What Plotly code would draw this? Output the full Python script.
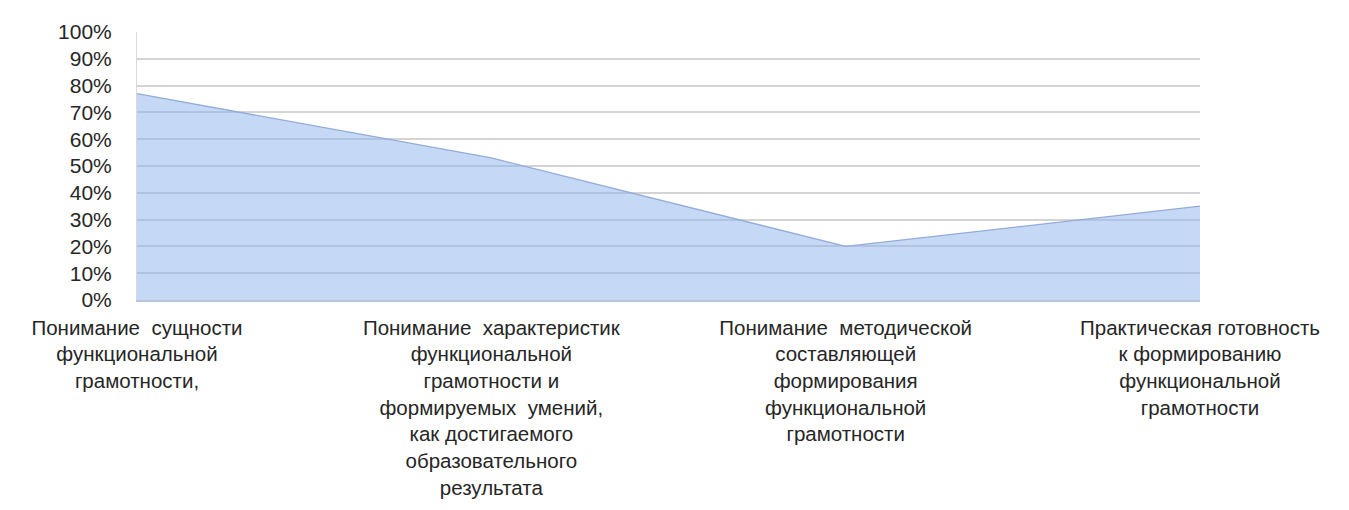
import plotly.graph_objects as go

categories = [
    "Понимание  сущности<br>функциональной<br>грамотности,",
    "Понимание  характеристик<br>функциональной<br>грамотности и<br>формируемых  умений,<br>как достигаемого<br>образовательного<br>результата",
    "Понимание  методической<br>составляющей<br>формирования<br>функциональной<br>грамотности",
    "Практическая готовность<br>к формированию<br>функциональной<br>грамотности",
]
values = [77, 53, 20, 35]
y_ticks = [0, 10, 20, 30, 40, 50, 60, 70, 80, 90, 100]
y_labels = [f"{v}%" for v in y_ticks]

fig = go.Figure()
fig.add_trace(go.Scatter(
    x=list(range(len(categories))),
    y=values,
    mode="lines",
    fill="tozeroy",
    fillcolor="rgba(140,180,240,0.5)",
    line=dict(color="#93abd8", width=1.3),
    hoverinfo="skip",
))

xfont = dict(family="Liberation Sans, Arial, sans-serif", size=20.5, color="#262626")
yfont = dict(family="Liberation Sans, Arial, sans-serif", size=21, color="#262626")

fig.update_layout(
    width=1349, height=510,
    margin=dict(l=129, r=157, t=16, b=218),
    paper_bgcolor="white", plot_bgcolor="white",
    showlegend=False,
    font=xfont,
    xaxis=dict(
        range=[0, len(categories) - 1],
        tickmode="array",
        tickvals=list(range(len(categories))),
        ticktext=categories,
        showgrid=False, zeroline=False,
        showline=True, linecolor="#b8c4dc", linewidth=2,
        ticks="outside", ticklen=8, tickcolor="rgba(0,0,0,0)",
        tickangle=0,
        tickfont=xfont,
    ),
    yaxis=dict(
        range=[0, 100],
        tickmode="array",
        tickvals=y_ticks,
        ticktext=y_labels,
        showgrid=True, gridcolor="#d4d4d4", gridwidth=1.5,
        zeroline=False,
        showline=True, linecolor="#d9d9d9", linewidth=1,
        ticks="outside", ticklen=20, tickcolor="rgba(0,0,0,0)",
        tickfont=yfont,
    ),
)

fig.write_html("out.html")
